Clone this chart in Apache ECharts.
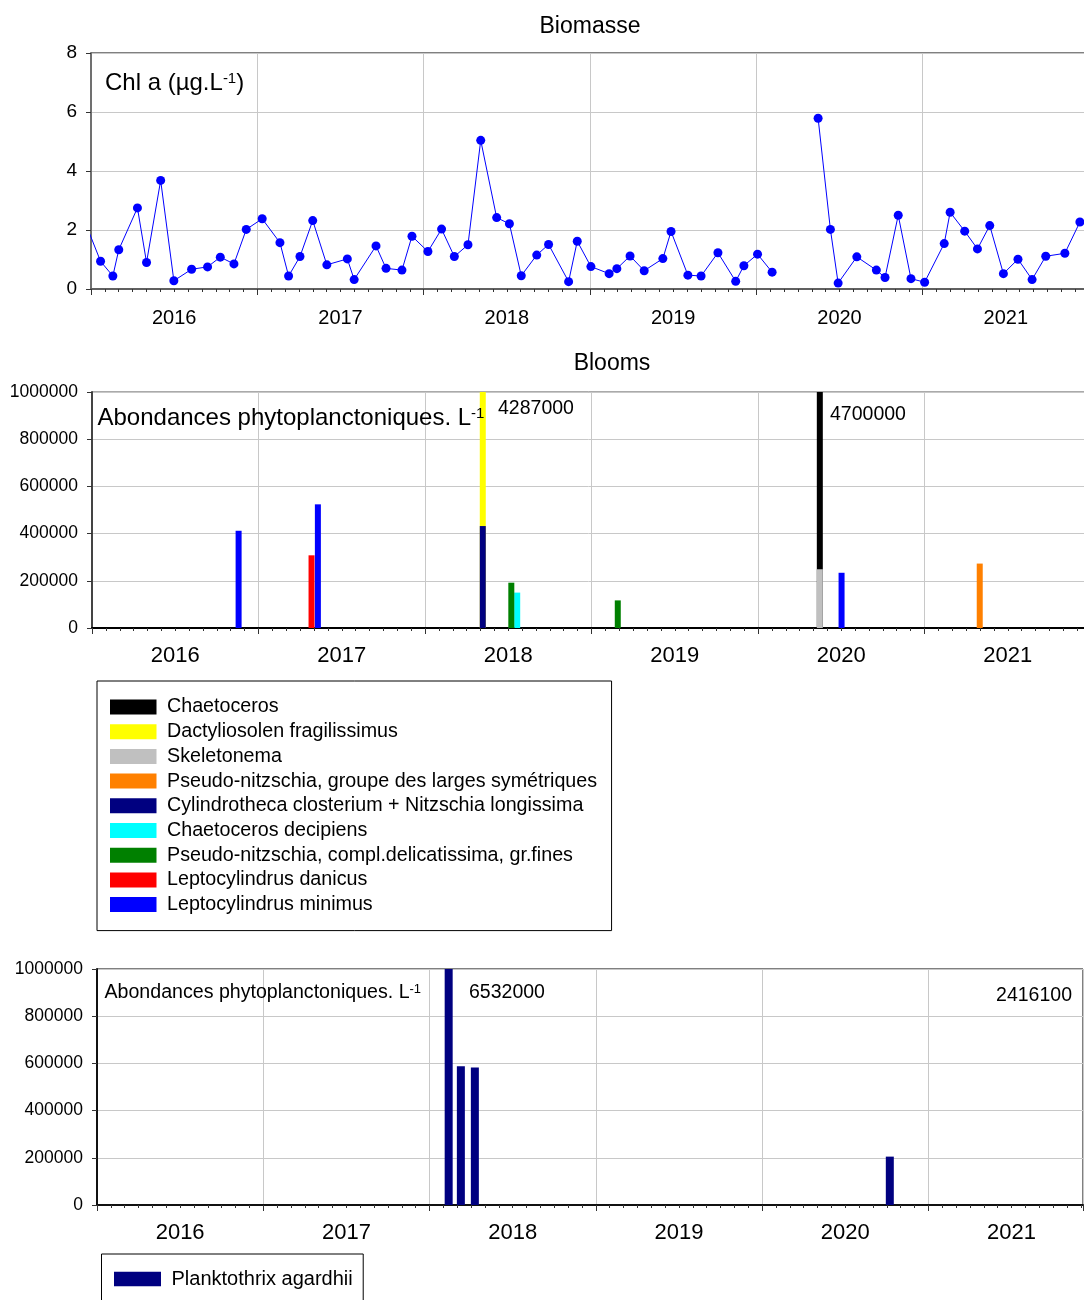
<!DOCTYPE html>
<html>
<head>
<meta charset="utf-8">
<title>Biomasse et Blooms</title>
<script src="https://cdn.jsdelivr.net/npm/echarts@6/dist/echarts.min.js"></script>
<style>
  html, body { margin: 0; padding: 0; background: #fff; }
  #main { width: 1084px; height: 1300px; }
</style>
</head>
<body>
<div id="main"></div>
<script>
// Chl a (µg/L) - dates de prélèvement et valeurs (null = pas de mesure, coupe la courbe)
const chlDates = [
  '2015-12-18', '2016-01-22', '2016-02-18', '2016-03-02', '2016-04-12', '2016-05-02', '2016-06-02',
  '2016-07-01', '2016-08-09', '2016-09-13', '2016-10-11', '2016-11-10', '2016-12-07',
  '2017-01-11', '2017-02-19', '2017-03-10', '2017-04-04', '2017-05-02', '2017-06-02',
  '2017-07-17', '2017-08-01', '2017-09-18', '2017-10-10', '2017-11-14', '2017-12-06',
  '2018-01-10', '2018-02-09', '2018-03-09', '2018-04-08', '2018-05-06', '2018-06-10',
  '2018-07-08', '2018-08-03', '2018-09-06', '2018-10-02', '2018-11-15', '2018-12-04',
  '2019-01-03', '2019-02-12', '2019-03-01', '2019-03-30', '2019-04-30', '2019-06-10',
  '2019-06-28', '2019-08-04', '2019-09-02', '2019-10-09', '2019-11-17', '2019-12-05',
  '2020-01-04', '2020-02-05', '2020-03-20', '2020-05-16', '2020-06-12', '2020-06-29',
  '2020-08-09', '2020-09-21', '2020-10-10', '2020-11-08', '2020-12-06',
  '2021-01-05', '2021-02-17', '2021-03-02', '2021-04-03', '2021-05-01', '2021-05-28',
  '2021-06-27', '2021-07-29', '2021-08-29', '2021-09-28', '2021-11-09', '2021-12-12'
];
const chlValues = [
  2.3, 0.94, 0.44, 1.33, 2.75, 0.90, 3.68,
  0.28, 0.67, 0.75, 1.08, 0.85, 2.02,
  2.38, 1.57, 0.44, 1.10, 2.32, 0.82,
  1.02, 0.32, 1.46, 0.70, 0.64, 1.79,
  1.27, 2.03, 1.10, 1.50, 5.04, 2.42,
  2.21, 0.45, 1.15, 1.51, 0.25, 1.62,
  0.76, 0.52, 0.69, 1.12, 0.62, 1.03,
  1.95, 0.47, 0.44, 1.23, 0.26, 0.79,
  1.18, 0.57, null, 5.79, 2.02, 0.20,
  1.09, 0.64, 0.39, 2.50, 0.35,
  0.23, 1.54, 2.60, 1.96, 1.36, 2.15,
  0.52, 1.01, 0.32, 1.11, 1.21, 2.27
];

// Blooms : [date, abondance cellules/L]
const chaetoceros = [['2020-05-19', 4700000]];
const dactyliosolen = [['2018-05-06', 4287000]];
const skeletonema = [['2020-05-19', 249000]];
const pnLarges = [['2021-05-07', 273000]];
const cylindrotheca = [['2018-05-06', 432000]];
const chaetoDecipiens = [['2018-07-21', 150000]];
const pnFines = [['2018-07-08', 192000], ['2019-02-28', 117000]];
const leptoDanicus = [['2017-04-23', 308000]];
const leptoMinimus = [['2016-11-13', 412000], ['2017-05-07', 524000], ['2020-07-06', 234000]];

// Planktothrix agardhii
const planktoDates = ['2018-02-09', '2018-03-08', '2018-04-08', '2020-10-13'];
const planktoValues = [6532000, 588000, 583000, 205000];
const planktoOffscale = 2416100;

const years = [2016, 2017, 2018, 2019, 2020, 2021];

const FONT = "'Liberation Sans', Arial, Helvetica, sans-serif";
const GRIDLINE = '#c8c8c8';

const chart = echarts.init(document.getElementById('main'), null, { renderer: 'canvas' });

// trois axes x par grille : temps (donnees), annees (traits + grille), etiquettes (milieu d'annee)
function makeXAxes(g, tMax, yrMax, lineColor, fs, margin) {
  return [
    { type: 'time', gridIndex: g, position: 'bottom', min: '2016-01-01', max: tMax, show: false },
    {
      type: 'value', gridIndex: g, position: 'bottom', min: years[0], max: yrMax, interval: 1,
      axisLine: { show: true, onZero: false, lineStyle: { color: lineColor, width: 2 } },
      axisTick: { show: true, length: 6, lineStyle: { color: '#333' } },
      minorTick: { show: true, splitNumber: 12, length: 3, lineStyle: { color: '#333' } },
      splitLine: { show: true, lineStyle: { color: GRIDLINE, width: 1 } },
      minorSplitLine: { show: false },
      axisLabel: { show: false }
    },
    {
      type: 'value', gridIndex: g, position: 'bottom', min: years[0], max: yrMax, interval: 0.5,
      axisLine: { show: false, onZero: false }, axisTick: { show: false }, splitLine: { show: false },
      axisLabel: {
        fontSize: fs, color: '#000', fontFamily: FONT, margin: margin,
        showMinLabel: true, showMaxLabel: true,
        formatter: function (v) {
          const y = Math.floor(v + 1e-9);
          return Math.abs(v - y - 0.5) < 1e-6 && years.indexOf(y) >= 0 ? String(y) : '';
        }
      }
    }
  ];
}

function makeYAxis(g, max, interval, lineColor, fs) {
  return {
    type: 'value', gridIndex: g, position: 'left', min: 0, max: max, interval: interval,
    axisLine: { show: true, onZero: false, lineStyle: { color: lineColor, width: 2 } },
    axisTick: { show: true, length: 5, lineStyle: { color: '#333' } },
    splitLine: { show: true, lineStyle: { color: GRIDLINE, width: 1 } },
    axisLabel: { fontSize: fs, color: '#000', fontFamily: FONT, margin: 14, formatter: v => String(v) }
  };
}

function bloomBar(name, color, data) {
  return {
    type: 'bar', name: name, xAxisIndex: 3, yAxisIndex: 1,
    data: data, barWidth: 6, barGap: '-100%', clip: true,
    itemStyle: { color: color }
  };
}

const bloomNames = [
  'Chaetoceros',
  'Dactyliosolen fragilissimus',
  'Skeletonema',
  'Pseudo-nitzschia, groupe des larges symétriques',
  'Cylindrotheca closterium + Nitzschia longissima',
  'Chaetoceros decipiens',
  'Pseudo-nitzschia, compl.delicatissima, gr.fines',
  'Leptocylindrus danicus',
  'Leptocylindrus minimus'
];

const supRich = function (fs, sfs) {
  return {
    n: { fontSize: fs, fontFamily: FONT, fill: '#000', lineHeight: fs },
    s: { fontSize: sfs, fontFamily: FONT, fill: '#000', lineHeight: fs, verticalAlign: 'top' }
  };
};

const option = {
  animation: false,
  backgroundColor: '#fff',
  textStyle: { fontFamily: FONT },
  title: [
    { text: 'Biomasse', left: 590, top: 15, textAlign: 'center', padding: 0,
      textStyle: { fontSize: 23, fontWeight: 'normal', color: '#000', fontFamily: FONT } },
    { text: 'Blooms', left: 612, top: 352, textAlign: 'center', padding: 0,
      textStyle: { fontSize: 23, fontWeight: 'normal', color: '#000', fontFamily: FONT } }
  ],
  grid: [
    { left: 91, right: -5, top: 53, height: 236, show: true, borderColor: '#000', borderWidth: 1,
      backgroundColor: 'transparent', containLabel: false, outerBoundsMode: 'none' },
    { left: 92, right: -7, top: 392, height: 236, show: true, borderColor: '#555', borderWidth: 1,
      backgroundColor: 'transparent', containLabel: false, outerBoundsMode: 'none' },
    { left: 97, right: 1, top: 969, height: 236, show: true, borderColor: '#000', borderWidth: 1,
      backgroundColor: 'transparent', containLabel: false, outerBoundsMode: 'none' }
  ],
  xAxis: [].concat(
    makeXAxes(0, '2022-01-01', 2022, '#606060', 20, 19.5),
    makeXAxes(1, '2022-01-01', 2022, '#000', 22, 16.5),
    makeXAxes(2, '2021-12-06', 2021.93, '#111', 22, 16.5)
  ),
  yAxis: [
    makeYAxis(0, 8, 2, '#707070', 19),
    makeYAxis(1, 1000000, 200000, '#444', 17.5),
    makeYAxis(2, 1000000, 200000, '#111', 17.5)
  ],
  legend: [
    {
      data: bloomNames, orient: 'vertical', left: 97, top: 681,
      icon: 'rect', itemWidth: 46.5, itemHeight: 15, itemGap: 4.7,
      padding: [16, 14.5, 16, 13], borderColor: '#000', borderWidth: 1,
      selectedMode: false,
      textStyle: { fontSize: 19.7, color: '#000', fontFamily: FONT, lineHeight: 20, padding: [0, 0, 0, 5.5] }
    },
    {
      data: ['Planktothrix agardhii'], orient: 'vertical', left: 101.5, top: 1254,
      icon: 'rect', itemWidth: 47, itemHeight: 14.5,
      padding: [15, 10.5, 15, 12.5], borderColor: '#000', borderWidth: 1,
      selectedMode: false,
      textStyle: { fontSize: 20, color: '#000', fontFamily: FONT, lineHeight: 20, padding: [0, 0, 0, 5.5] }
    }
  ],
  graphic: [
    { type: 'text', left: 105, top: 71, z: 100,
      style: { text: '{n|Chl a (µg.L}{s|-1}{n|)}', rich: supRich(24, 15) } },
    { type: 'text', left: 97.5, top: 406, z: 100,
      style: { text: '{n|Abondances phytoplanctoniques. L}{s|-1}', rich: supRich(24, 15) } },
    { type: 'text', left: 498, top: 398.5, z: 100,
      style: { text: String(dactyliosolen[0][1]), fontSize: 19.5, fontFamily: FONT, fill: '#000' } },
    { type: 'text', left: 830, top: 405, z: 100,
      style: { text: String(chaetoceros[0][1]), fontSize: 19.5, fontFamily: FONT, fill: '#000' } },
    { type: 'text', left: 104.5, top: 982.5, z: 100,
      style: { text: '{n|Abondances phytoplanctoniques. L}{s|-1}', rich: supRich(19.6, 13) } },
    { type: 'text', left: 469, top: 983, z: 100,
      style: { text: String(planktoValues[0]), fontSize: 19.5, fontFamily: FONT, fill: '#000' } },
    { type: 'text', right: 12, top: 986, z: 100,
      style: { text: String(planktoOffscale), fontSize: 19.5, fontFamily: FONT, fill: '#000' } }
  ],
  series: [
    {
      type: 'line', name: 'Chl a', xAxisIndex: 0, yAxisIndex: 0,
      data: chlDates.map((d, i) => [d, chlValues[i]]),
      symbol: 'circle', symbolSize: 9, showSymbol: true, connectNulls: false, clip: true,
      lineStyle: { color: '#0000ff', width: 1 },
      itemStyle: { color: '#0000ff' }
    },
    bloomBar(bloomNames[0], '#000000', chaetoceros),
    bloomBar(bloomNames[1], '#ffff00', dactyliosolen),
    bloomBar(bloomNames[2], '#c0c0c0', skeletonema),
    bloomBar(bloomNames[3], '#ff8000', pnLarges),
    bloomBar(bloomNames[4], '#000080', cylindrotheca),
    bloomBar(bloomNames[5], '#00ffff', chaetoDecipiens),
    bloomBar(bloomNames[6], '#008000', pnFines),
    bloomBar(bloomNames[7], '#ff0000', leptoDanicus),
    bloomBar(bloomNames[8], '#0000ff', leptoMinimus),
    {
      type: 'bar', name: 'Planktothrix agardhii', xAxisIndex: 6, yAxisIndex: 2,
      data: planktoDates.map((d, i) => [d, planktoValues[i]]),
      barWidth: 8, clip: true,
      itemStyle: { color: '#000080' }
    }
  ]
};

chart.setOption(option);
</script>
</body>
</html>
